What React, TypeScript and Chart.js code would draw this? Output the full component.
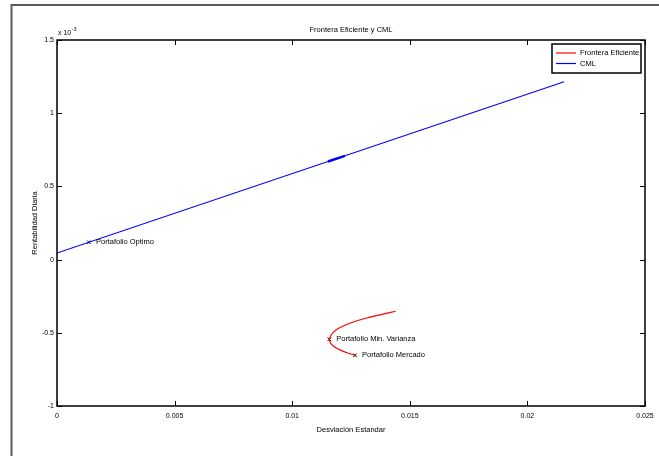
import React, { useEffect, useRef } from "react";
import { Chart, registerables } from "chart.js";

Chart.register(...registerables);

// Efficient frontier (standard deviation vs. daily return)
const frontierSigma = [0.0144, 0.01387, 0.01317, 0.0126, 0.01217, 0.01186, 0.01168, 0.01158, 0.01164, 0.01182, 0.0121, 0.01239, 0.01267];
const frontierReturn = [-0.000353, -0.000372, -0.000399, -0.000426, -0.000454, -0.000481, -0.00051, -0.000544, -0.000572, -0.000599, -0.000622, -0.00064, -0.000654];

// Capital market line
const cmlSigma = [0, 0.02156];
const cmlReturn = [0.000045, 0.001215];
// short stretch where the line is drawn twice
const cmlOverlapSigma = [0.01152, 0.01224];
const cmlOverlapReturn = [0.00067, 0.000709];

// Highlighted portfolios
const portfolioNames = ["Portafolio Optimo", "Portafolio Min. Varianza", "Portafolio Mercado"];
const portfolioSigma = [0.00136, 0.01158, 0.01267];
const portfolioReturn = [0.000118, -0.000544, -0.000654];

const xTicks = [0, 0.005, 0.01, 0.015, 0.02, 0.025];
const yTicks = [-0.001, -0.0005, 0, 0.0005, 0.001, 0.0015];

const titleText = "Frontera Eficiente y CML";
const xTitle = "Desviación Estandar";
const yTitle = "Rentabilidad Diaria";
const seriesNames = ["Frontera Eficiente", "CML"];
const seriesColors = ["#ff0000", "#0000ff"];

const FONT = '"Liberation Sans", Arial, Helvetica, sans-serif';

const toPoints = (xs: number[], ys: number[]) => xs.map((x, i) => ({ x, y: ys[i] }));
const fmt = (v: number) => String(parseFloat(v.toFixed(4)));

const decorations = {
  id: "decorations",
  beforeDraw(chart: any) {
    const { ctx, width, height } = chart;
    ctx.save();
    ctx.fillStyle = "#ffffff";
    ctx.fillRect(0, 0, width, height);
    // outer figure frame (top and left edges)
    ctx.strokeStyle = "#5a5a5a";
    ctx.lineWidth = 2;
    ctx.beginPath();
    ctx.moveTo(11.5, height);
    ctx.lineTo(11.5, 5);
    ctx.lineTo(width, 5);
    ctx.stroke();
    ctx.restore();
  },
  afterDraw(chart: any) {
    const { ctx, chartArea: a } = chart;
    const xs = chart.scales.x;
    const ys = chart.scales.y;
    ctx.save();

    // axes box
    ctx.strokeStyle = "#000000";
    ctx.lineWidth = 1.5;
    ctx.strokeRect(a.left, a.top, a.right - a.left, a.bottom - a.top);

    // inward tick marks on all four sides
    ctx.lineWidth = 1;
    const tl = 5;
    ctx.beginPath();
    xTicks.forEach((v) => {
      const px = Math.round(xs.getPixelForValue(v)) + 0.5;
      ctx.moveTo(px, a.bottom);
      ctx.lineTo(px, a.bottom - tl);
      ctx.moveTo(px, a.top);
      ctx.lineTo(px, a.top + tl);
    });
    yTicks.forEach((v) => {
      const py = Math.round(ys.getPixelForValue(v)) + 0.5;
      ctx.moveTo(a.left, py);
      ctx.lineTo(a.left + tl, py);
      ctx.moveTo(a.right, py);
      ctx.lineTo(a.right - tl, py);
    });
    ctx.stroke();

    ctx.fillStyle = "#000000";
    ctx.font = `7px ${FONT}`;
    // x tick labels
    ctx.textAlign = "center";
    ctx.textBaseline = "middle";
    xTicks.forEach((v) => {
      ctx.fillText(fmt(v), xs.getPixelForValue(v), a.bottom + 10);
    });
    // y tick labels (in units of 10^-3)
    ctx.textAlign = "right";
    yTicks.forEach((v) => {
      ctx.fillText(fmt(v * 1000), a.left - 3, ys.getPixelForValue(v));
    });
    // exponent label
    ctx.textAlign = "left";
    ctx.textBaseline = "alphabetic";
    ctx.fillText("x 10", a.left + 1, a.top - 5);
    ctx.font = `5px ${FONT}`;
    ctx.fillText("-3", a.left + 15, a.top - 9);

    // title and axis titles
    ctx.font = `7.5px ${FONT}`;
    ctx.textAlign = "center";
    ctx.textBaseline = "middle";
    const cx = (a.left + a.right) / 2;
    ctx.fillText(titleText, cx, a.top - 10);
    ctx.fillText(xTitle, cx, a.bottom + 24);
    ctx.save();
    ctx.translate(a.left - 22, (a.top + a.bottom) / 2);
    ctx.rotate(-Math.PI / 2);
    ctx.fillText(yTitle, 0, 0);
    ctx.restore();

    // portfolio labels
    ctx.font = `7.5px ${FONT}`;
    ctx.textAlign = "left";
    portfolioNames.forEach((name, i) => {
      const px = xs.getPixelForValue(portfolioSigma[i]);
      const py = ys.getPixelForValue(portfolioReturn[i]);
      ctx.fillText(name, px + 7, py);
    });

    // legend
    const lx = a.right - 93;
    const ly = a.top + 4;
    const lw = 89;
    const lh = 29;
    ctx.fillStyle = "#ffffff";
    ctx.fillRect(lx, ly, lw, lh);
    ctx.strokeStyle = "#000000";
    ctx.lineWidth = 1.5;
    ctx.strokeRect(lx, ly, lw, lh);
    ctx.font = `7.5px ${FONT}`;
    seriesNames.forEach((name, i) => {
      const y = ly + 9 + i * 10.5;
      ctx.strokeStyle = seriesColors[i];
      ctx.lineWidth = 1.2;
      ctx.beginPath();
      ctx.moveTo(lx + 4, y);
      ctx.lineTo(lx + 24, y);
      ctx.stroke();
      ctx.fillStyle = "#000000";
      ctx.fillText(name, lx + 28, y);
    });

    ctx.restore();
  },
};

export default function App() {
  const canvasRef = useRef<HTMLCanvasElement | null>(null);

  useEffect(() => {
    if (!canvasRef.current) return;
    const chart = new Chart(canvasRef.current, {
      type: "scatter",
      data: {
        datasets: [
          {
            label: seriesNames[0],
            data: toPoints(frontierSigma, frontierReturn),
            showLine: true,
            borderColor: seriesColors[0],
            borderWidth: 1.2,
            pointRadius: 0,
            tension: 0.3,
          },
          {
            label: seriesNames[1],
            data: toPoints(cmlSigma, cmlReturn),
            showLine: true,
            borderColor: seriesColors[1],
            borderWidth: 1.2,
            pointRadius: 0,
          },
          {
            label: "CML overlap",
            data: toPoints(cmlOverlapSigma, cmlOverlapReturn),
            showLine: true,
            borderColor: seriesColors[1],
            borderWidth: 2.4,
            pointRadius: 0,
          },
          {
            label: "Portafolios",
            data: toPoints(portfolioSigma, portfolioReturn),
            showLine: false,
            pointStyle: "crossRot",
            pointRadius: 2.5,
            borderColor: "#000000",
            borderWidth: 1,
          },
        ],
      } as any,
      options: {
        animation: false,
        responsive: false,
        maintainAspectRatio: false,
        devicePixelRatio: 1,
        layout: { padding: { left: 57, top: 40, right: 14, bottom: 50 } },
        plugins: {
          legend: { display: false },
          title: { display: false },
          tooltip: { enabled: false },
        },
        scales: {
          x: { type: "linear", display: false, min: 0, max: 0.025 },
          y: { type: "linear", display: false, min: -0.001, max: 0.0015 },
        },
      } as any,
      plugins: [decorations],
    });
    return () => chart.destroy();
  }, []);

  return (
    <div style={{ position: "absolute", left: 0, top: 0, width: 659, height: 456 }}>
      <canvas ref={canvasRef} width={659} height={456} style={{ width: 659, height: 456, display: "block" }} />
    </div>
  );
}
